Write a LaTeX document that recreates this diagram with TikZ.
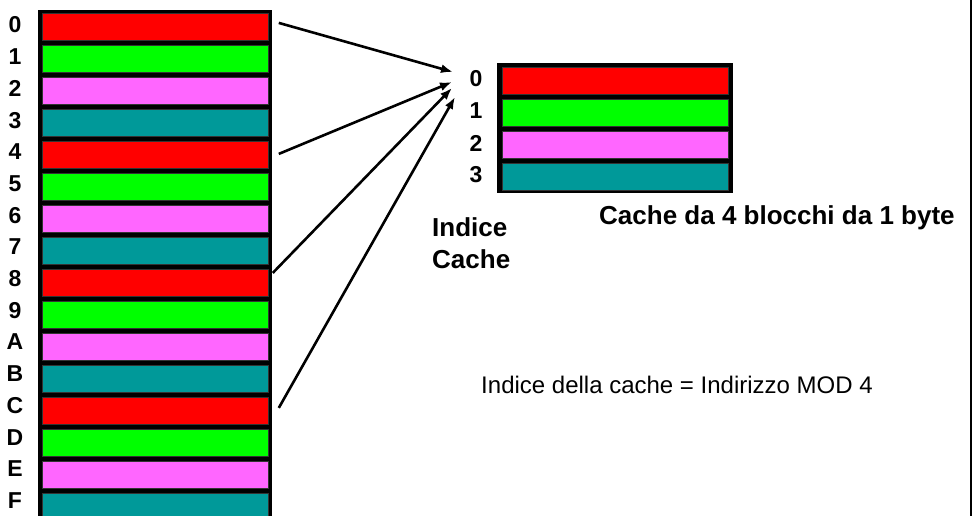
\documentclass[tikz,border=0pt]{standalone}
\usepackage{fontspec}
\setmainfont{Liberation Sans}
\usetikzlibrary{arrows.meta}
\definecolor{cred}{HTML}{FF0000}
\definecolor{cgreen}{HTML}{00FF00}
\definecolor{cpink}{HTML}{FF66FF}
\definecolor{cteal}{HTML}{009999}
\begin{document}
\begin{tikzpicture}[x=1pt,y=-1pt,
  cellbox/.style={draw=black!80,line width=0.8pt,minimum width=226pt,minimum height=27pt,inner sep=0pt,anchor=north west},
  lab/.style={font=\fontsize{23}{26}\selectfont\bfseries,inner sep=0pt},
  big/.style={font=\fontsize{26}{30}\selectfont\bfseries,inner sep=0pt,anchor=west},
  conn/.style={line width=2.6pt,-{Latex[length=12pt,width=9pt]}}]
\useasboundingbox (0,0) rectangle (974,516);
\fill[white] (0,0) rectangle (974,516);
% memory column
\fill[black] (38,10) rectangle (272,530);
\foreach \i/\t/\c in {0/0/cred,1/1/cgreen,2/2/cpink,3/3/cteal,4/4/cred,5/5/cgreen,6/6/cpink,7/7/cteal,8/8/cred,9/9/cgreen,10/A/cpink,11/B/cteal,12/C/cred,13/D/cgreen,14/E/cpink,15/F/cteal}{
  \node[cellbox,fill=\c] (m\i) at (42,{13+32*\i}) {};
  \node[lab] (ml\i) at (15,{25+31.7*\i}) {\t};
}
% cache
\fill[black] (497,63) rectangle (733,193);
\foreach \i/\c in {0/cred,1/cgreen,2/cpink,3/cteal}{
  \node[cellbox,fill=\c] (c\i) at (502,{67+32*\i}) {};
  \node[lab] (cl\i) at (476,{79+32*\i}) {\i};
}
% arrow tips
\coordinate (t0) at (453,72);
\coordinate (t1) at (452,82);
\coordinate (t2) at (452,88);
\coordinate (t3) at (455,97);
\draw[conn] ([shift={(10,-4)}]m0.east) -- (t0);
\draw[conn] ([shift={(10,-1)}]m4.east) -- (t1);
\draw[conn] ([shift={(4,-10)}]m8.east) -- (t2);
\draw[conn] ([shift={(10,-3)}]m12.east) -- (t3);
% texts
\node[big] (ic1) at (432,227) {Indice};
\node[big] (ic2) at (432,259) {Cache};
\node[big] (title) at (599,218) {Cache da 4 blocchi da 1 byte};
\node[font=\fontsize{24}{28}\selectfont,inner sep=0pt] (formula) at (677,385) {Indice della cache = Indirizzo MOD 4};
% right border
\draw[line width=2pt] (971,0) -- (971,516);
\end{tikzpicture}
\end{document}
